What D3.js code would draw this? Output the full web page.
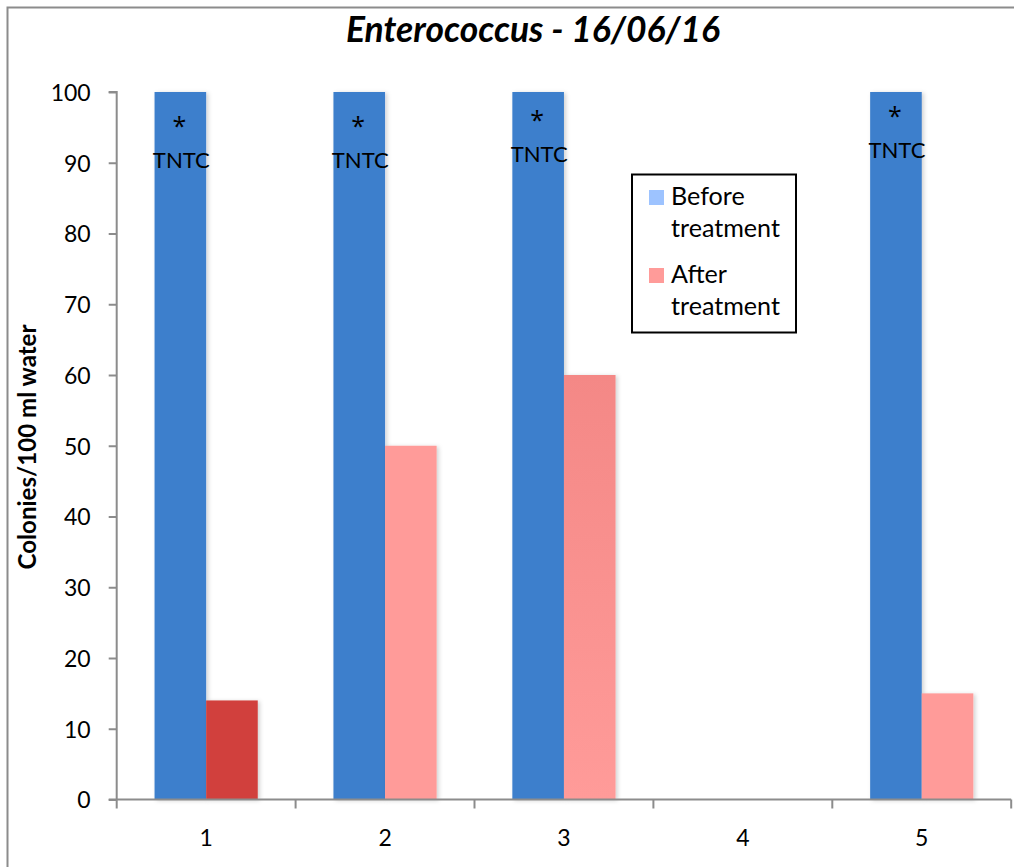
<!DOCTYPE html>
<html>
<head>
<meta charset="utf-8">
<script src="https://cdn.jsdelivr.net/npm/d3@7"></script>
<style>
  html, body { margin: 0; padding: 0; background: #fff; }
  svg { display: block; font-family: Lato, "Open Sans", sans-serif; }
</style>
</head>
<body>
<svg id="chart" width="1014" height="867"></svg>
<script>
// Sampling sites on the x axis
const categories = ["1", "2", "3", "4", "5"];
// Colonies per 100 ml before treatment (100 = too numerous to count, capped at axis top; null = no sample)
const beforeValues = [100, 100, 100, null, 100];
// Colonies per 100 ml after treatment
const afterValues = [14, 50, 60, null, 15];
// Annotation drawn on the capped "before" bars
const beforeLabels = ["TNTC", "TNTC", "TNTC", null, "TNTC"];
// Small vertical nudges used by the annotations on each bar
const labelOffsets = [0, 0, -6, null, -10];
const yTicks = [0, 10, 20, 30, 40, 50, 60, 70, 80, 90, 100];
const seriesNames = ["Before treatment", "After treatment"];

const svg = d3.select("#chart");

// Font size that makes a text node span the given width
function fittedSize(node, width) {
  const fs = parseFloat(d3.select(node).attr("font-size"));
  const w = node.getComputedTextLength();
  return w > 0 ? fs * width / w : fs;
}
function fitWidth(sel, width) {
  sel.each(function () {
    d3.select(this).attr("font-size", fittedSize(this, width).toFixed(2));
  });
}

const margin = { left: 116.7, right: 1011.2, top: 92, bottom: 799.5 };

const x = d3.scaleBand().domain(categories).range([margin.left, margin.right]).padding(0);
const y = d3.scaleLinear().domain([0, 100]).range([margin.bottom, margin.top]);

const barW = 51.6;

// Outer frame
svg.append("path")
  .attr("d", "M7.5,867 V7.5 H1014")
  .attr("fill", "none").attr("stroke", "#8c8c8c").attr("stroke-width", 2);

// Defs: soft shadow and gradient fill
const defs = svg.append("defs");
const f = defs.append("filter").attr("id", "shadow").attr("x", "-20%").attr("y", "-5%").attr("width", "150%").attr("height", "115%");
f.append("feDropShadow").attr("dx", 2).attr("dy", 1).attr("stdDeviation", 2).attr("flood-color", "#000").attr("flood-opacity", 0.18);

const grad = defs.append("linearGradient").attr("id", "afterGrad").attr("x1", 0).attr("y1", 0).attr("x2", 0).attr("y2", 1);
grad.append("stop").attr("offset", "0%").attr("stop-color", "#F48886");
grad.append("stop").attr("offset", "100%").attr("stop-color", "#FF9B99");

const blue = "#3D7FCC";
const pink = "#FF9B99";
const afterFills = ["#D1403C", pink, "url(#afterGrad)", pink, pink];

// Before bars
svg.append("g").selectAll("rect")
  .data(categories.map((c, i) => ({ c, v: beforeValues[i] })).filter(d => d.v != null))
  .join("rect")
  .attr("x", d => x(d.c) + x.bandwidth() / 2 - barW)
  .attr("y", d => y(d.v))
  .attr("width", barW)
  .attr("height", d => y(0) - y(d.v))
  .attr("fill", blue)
  .attr("filter", "url(#shadow)");

// After bars
svg.append("g").selectAll("rect")
  .data(categories.map((c, i) => ({ c, v: afterValues[i], i })).filter(d => d.v != null))
  .join("rect")
  .attr("x", d => x(d.c) + x.bandwidth() / 2)
  .attr("y", d => y(d.v))
  .attr("width", barW)
  .attr("height", d => y(0) - y(d.v))
  .attr("fill", d => afterFills[d.i])
  .attr("filter", "url(#shadow)");

// TNTC annotations
const ann = svg.append("g").attr("fill", "#000").attr("text-anchor", "middle");
categories.forEach((c, i) => {
  if (!beforeLabels[i]) return;
  const cx = x(c) + x.bandwidth() / 2 - barW / 2 + 1;
  ann.append("text").attr("x", cx - 2).attr("y", 135 + labelOffsets[i])
    .attr("font-family", "'Open Sans', sans-serif").attr("font-size", 25).text("*");
  ann.append("text").attr("x", cx).attr("y", 168 + labelOffsets[i]).attr("font-size", 22)
    .text(beforeLabels[i]).call(fitWidth, 57);
});

// Y axis
const yAxis = svg.append("g")
  .attr("transform", `translate(${margin.left},0)`)
  .call(d3.axisLeft(y).tickValues(yTicks).tickSize(8).tickPadding(18));
yAxis.select(".domain").attr("stroke", "#8c8c8c").attr("stroke-width", 2).attr("d", `M-8,${margin.top}H0V${margin.bottom}`);
yAxis.selectAll(".tick line").attr("stroke", "#8c8c8c").attr("stroke-width", 2);
yAxis.selectAll(".tick text").attr("font-size", 23).attr("fill", "#000")
  .attr("font-family", "Lato, sans-serif").attr("dy", "0.36em");

// X axis with ticks on category boundaries
const xAxisG = svg.append("g").attr("transform", `translate(0,${margin.bottom})`);
xAxisG.append("line").attr("x1", margin.left - 8).attr("x2", margin.right)
  .attr("stroke", "#8c8c8c").attr("stroke-width", 2);
const bounds = categories.map(c => x(c)).concat([x(categories[categories.length - 1]) + x.bandwidth()]);
xAxisG.selectAll("line.b").data(bounds).join("line").attr("class", "b")
  .attr("x1", d => d).attr("x2", d => d).attr("y1", 0).attr("y2", 9)
  .attr("stroke", "#8c8c8c").attr("stroke-width", 2);
xAxisG.selectAll("text").data(categories).join("text")
  .attr("x", d => x(d) + x.bandwidth() / 2)
  .attr("y", 46)
  .attr("text-anchor", "middle")
  .attr("font-size", 23)
  .text(d => d);

// Y axis title
svg.append("text")
  .attr("transform", "translate(36,447) rotate(-90)")
  .attr("text-anchor", "middle")
  .attr("font-size", 20)
  .attr("font-weight", "bold")
  .text("Colonies/100 ml water")
  .call(fitWidth, 245);

// Chart title
svg.append("text")
  .attr("x", 533).attr("y", 42)
  .attr("text-anchor", "middle")
  .attr("font-size", 30)
  .attr("font-weight", "bold")
  .attr("font-style", "italic")
  .text("Enterococcus - 16/06/16")
  .call(fitWidth, 374);

// Legend
const lg = svg.append("g");
lg.append("rect").attr("x", 632).attr("y", 174.5).attr("width", 164).attr("height", 158)
  .attr("fill", "#fff").attr("stroke", "#000").attr("stroke-width", 2);
const swatchColors = ["#9DC3FF", pink];
const legendTexts = [];
seriesNames.forEach((name, i) => {
  const top = 190 + i * 78;
  lg.append("rect").attr("x", 649).attr("y", top).attr("width", 15).attr("height", 15).attr("fill", swatchColors[i]);
  name.split(" ").forEach((w, j) => {
    legendTexts.push(lg.append("text").attr("x", 671).attr("y", top + 15 + j * 32)
      .attr("font-size", 22).text(w));
  });
});
// One shared size, set so the longest word fills the legend's text column
const legendSize = fittedSize(legendTexts[1].node(), 109);
legendTexts.forEach(t => t.attr("font-size", legendSize.toFixed(2)));
</script>
</body>
</html>
